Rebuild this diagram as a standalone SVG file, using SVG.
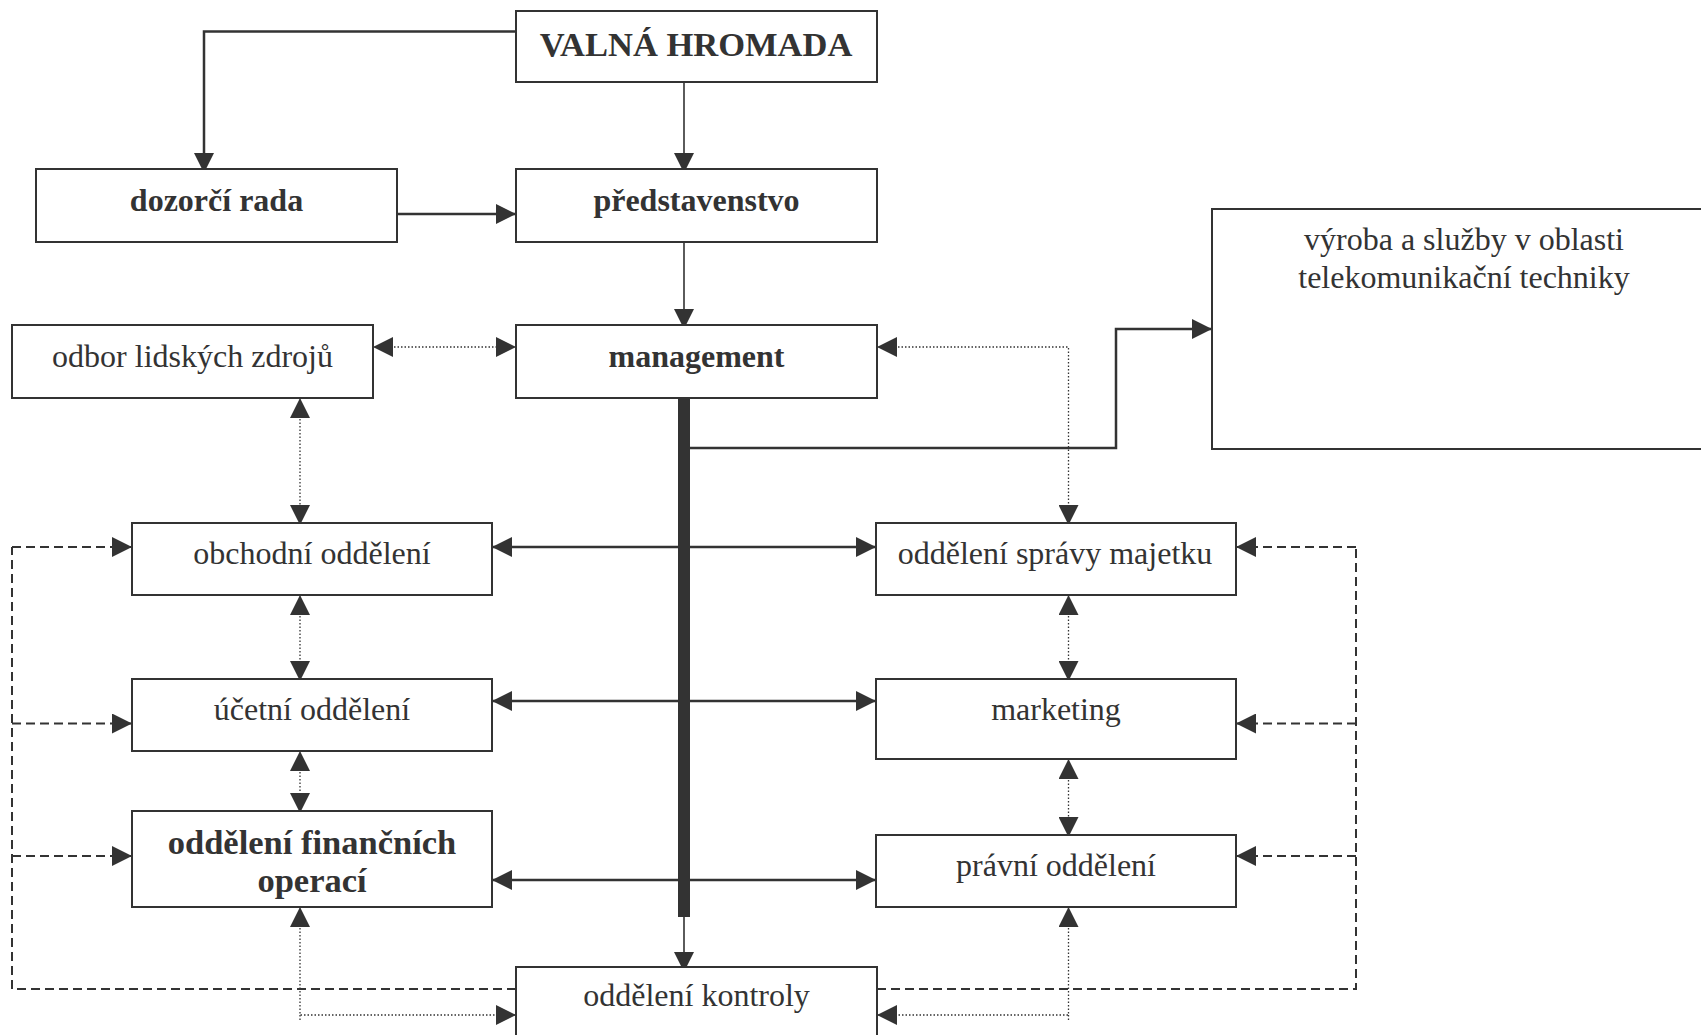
<svg xmlns="http://www.w3.org/2000/svg" width="1701" height="1035" viewBox="0 0 1701 1035">
<style>
.box{fill:#fff;stroke:#333;stroke-width:2}
.t{font-family:"Liberation Serif","Times New Roman",serif;font-size:32px;fill:#333;text-anchor:middle}
.b{font-weight:bold}
.big{font-size:34.5px}
.solid{fill:none;stroke:#333;stroke-width:2.5}
.thin{fill:none;stroke:#333;stroke-width:1.6}
.dot{fill:none;stroke:#333;stroke-width:1.3;stroke-dasharray:1.5 2}
.dash{fill:none;stroke:#333;stroke-width:2;stroke-dasharray:9 5}
.arr{marker-end:url(#ah)}
.arr2{marker-start:url(#ah);marker-end:url(#ah)}
</style>
<defs>
<marker id="ah" viewBox="0 0 20 20" refX="20" refY="10" markerWidth="20" markerHeight="20" markerUnits="userSpaceOnUse" orient="auto-start-reverse">
<path d="M0,0 L20,10 L0,20 z" fill="#333" stroke="none"/>
</marker>
</defs>
<rect width="1701" height="1035" fill="#fff"/>
<g id="connectors">
<path class="solid arr" d="M516,31.5 H204 V173"/>
<path class="thin arr" d="M684,82 V173"/>
<path class="solid arr" d="M397,214 H516"/>
<path class="thin arr" d="M684,242 V329"/>
<path class="dot arr2" d="M373,347 H516"/>
<path class="dot arr2" d="M877,347 H1068.5 V525"/>
<path class="dot arr2" d="M300,398 V525"/>
<path class="dot arr2" d="M300,595 V681"/>
<path class="dot arr2" d="M300,751 V813"/>
<path class="dot arr2" d="M300,907 V1015 H516"/>
<path class="dot" d="M300,1015 V1020"/>
<path class="dot arr2" d="M1068.5,595 V681"/>
<path class="dot arr2" d="M1068.5,759 V837"/>
<path class="dot arr2" d="M1068.5,907 V1015 H877"/>
<path class="dot" d="M1068.5,1015 V1020"/>
<path class="solid arr2" d="M492,547 H876"/>
<path class="solid arr2" d="M492,701 H876"/>
<path class="solid arr2" d="M492,880 H876"/>
<path class="solid arr" d="M690,448 H1116 V329 H1212"/>
<path class="thin arr" d="M684,917 V972"/>
<path class="dash" d="M516,989 H12 V547"/>
<path class="dash arr" d="M12,547 H132"/>
<path class="dash arr" d="M12,723.5 H132"/>
<path class="dash arr" d="M12,856 H132"/>
<path class="dash" d="M877,989 H1356 V547"/>
<path class="dash arr" d="M1356,547 H1236"/>
<path class="dash arr" d="M1356,723.5 H1236"/>
<path class="dash arr" d="M1356,856 H1236"/>
<rect x="678" y="391" width="12" height="526" fill="#333"/>
</g>
<g id="valna-hromada"><rect class="box" x="516" y="11" width="361" height="71"/><text class="t b big" x="696" y="56">VALNÁ HROMADA</text></g>
<g id="dozorci-rada"><rect class="box" x="36" y="169" width="361" height="73"/><text class="t b" x="216.5" y="210.5">dozorčí rada</text></g>
<g id="predstavenstvo"><rect class="box" x="516" y="169" width="361" height="73"/><text class="t b" x="696.5" y="210.5">představenstvo</text></g>
<g id="odbor-lidskych-zdroju"><rect class="box" x="12" y="325" width="361" height="73"/><text class="t" x="192.5" y="366.5">odbor lidských zdrojů</text></g>
<g id="management"><rect class="box" x="516" y="325" width="361" height="73"/><text class="t b" x="696.5" y="366.5">management</text></g>
<g id="vyroba"><rect class="box" x="1212" y="209" width="500" height="240"/><text class="t" x="1464" y="249.5">výroba a služby v oblasti</text><text class="t" x="1464" y="287.5">telekomunikační techniky</text></g>
<g id="obchodni-oddeleni"><rect class="box" x="132" y="523" width="360" height="72"/><text class="t" x="312" y="564">obchodní oddělení</text></g>
<g id="ucetni-oddeleni"><rect class="box" x="132" y="679" width="360" height="72"/><text class="t" x="312" y="720">účetní oddělení</text></g>
<g id="oddeleni-financnich-operaci"><rect class="box" x="132" y="811" width="360" height="96"/><text class="t b big" x="312" y="853.5">oddělení finančních</text><text class="t b big" x="312" y="891.5">operací</text></g>
<g id="oddeleni-spravy-majetku"><rect class="box" x="876" y="523" width="360" height="72"/><text class="t" x="1055" y="564">oddělení správy majetku</text></g>
<g id="marketing"><rect class="box" x="876" y="679" width="360" height="80"/><text class="t" x="1056" y="720">marketing</text></g>
<g id="pravni-oddeleni"><rect class="box" x="876" y="835" width="360" height="72"/><text class="t" x="1056" y="875.5">právní oddělení</text></g>
<g id="oddeleni-kontroly"><rect class="box" x="516" y="967" width="361" height="90"/><text class="t" x="696.5" y="1005.5">oddělení kontroly</text></g>
</svg>
